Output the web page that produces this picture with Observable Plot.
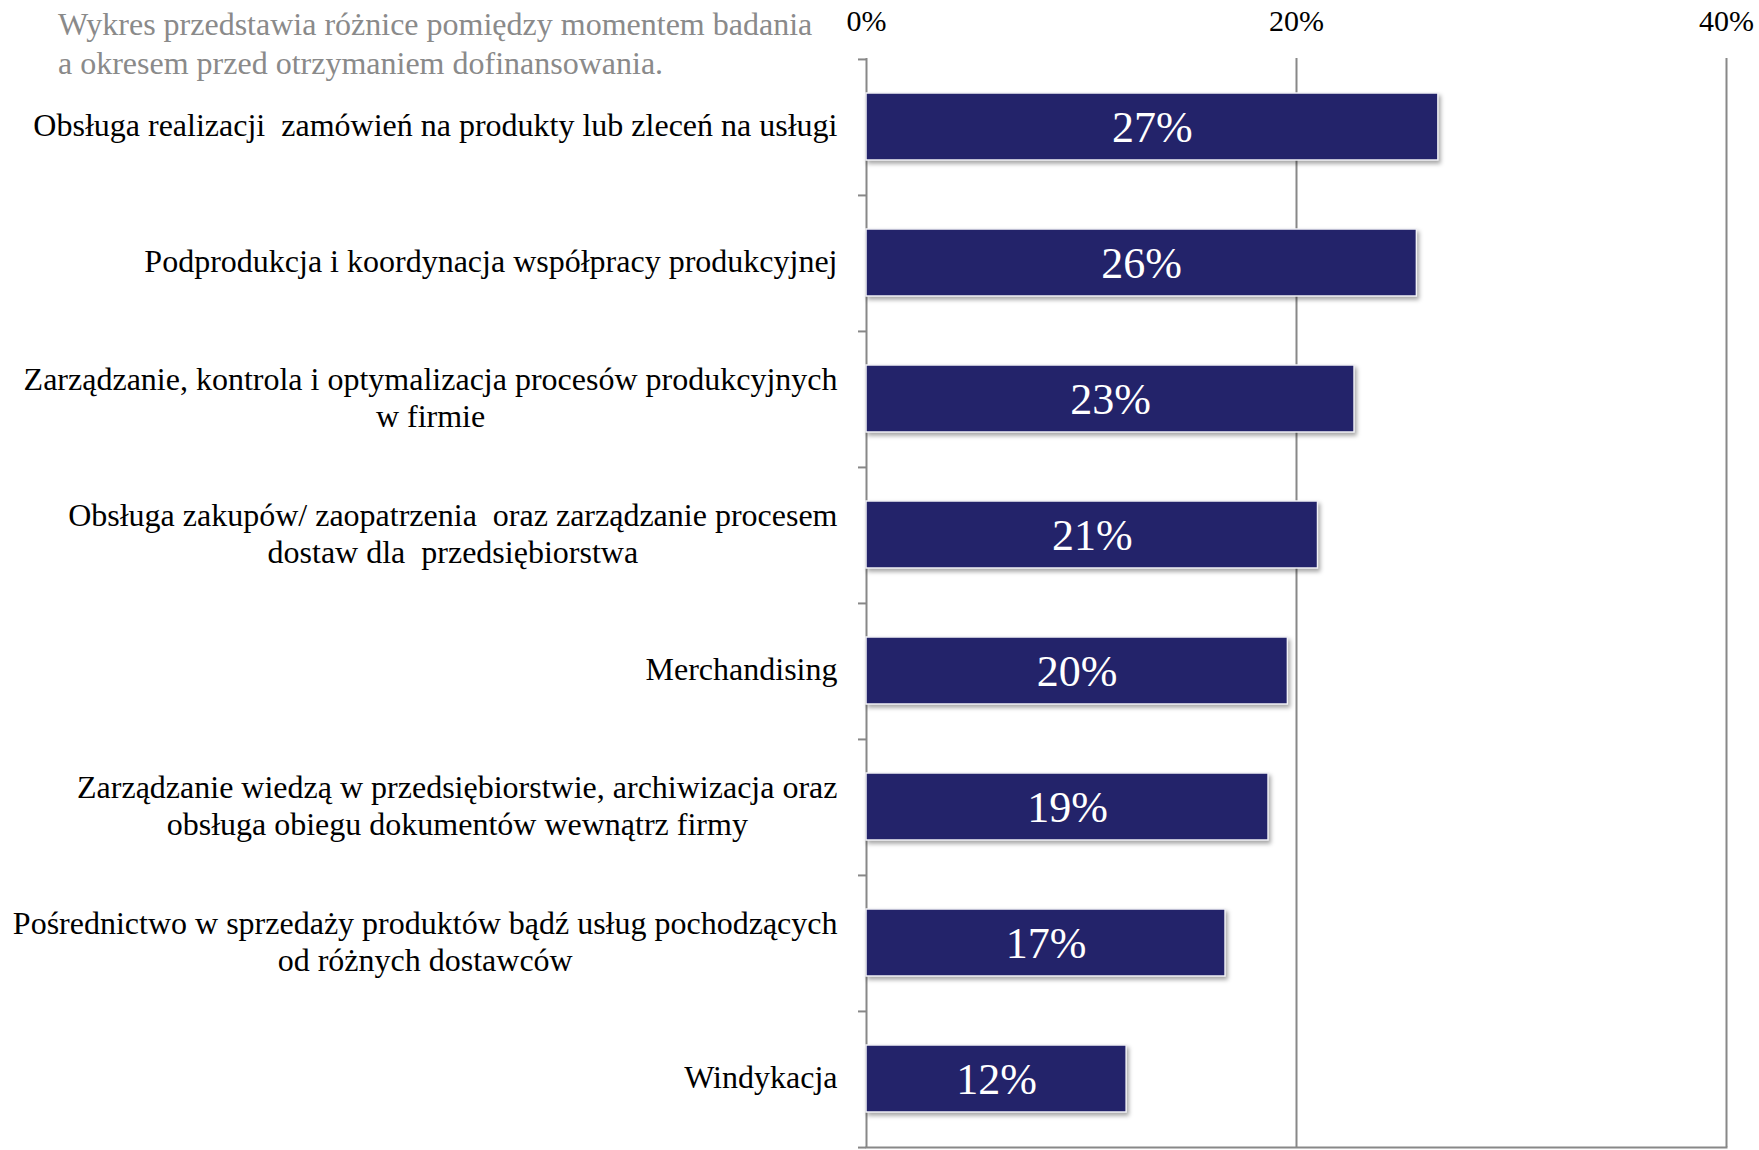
<!DOCTYPE html>
<html>
<head>
<meta charset="utf-8">
<script src="https://cdn.jsdelivr.net/npm/d3@7"></script>
<script src="https://cdn.jsdelivr.net/npm/@observablehq/plot@0.6"></script>
<style>
  html, body { margin: 0; padding: 0; background: white; }
  #wrap { position: relative; width: 1759px; height: 1150px; }
  #title { position: absolute; left: 58px; top: 5px; font-family: 'Liberation Serif', 'Times New Roman', serif; font-size: 32px; line-height: 39px; color: #8a8a8a; white-space: nowrap; }
  g[aria-label="bar"] rect { filter: drop-shadow(2px 3px 2px rgba(0,0,0,0.35)); }
</style>
</head>
<body>
<div id="wrap">
  <div id="title">Wykres przedstawia różnice pomiędzy momentem badania<br>a okresem przed otrzymaniem dofinansowania.</div>
</div>
<script>
const categories = [
  "Obsługa realizacji  zamówień na produkty lub zleceń na usługi",
  "Podprodukcja i koordynacja współpracy produkcyjnej",
  "Zarządzanie, kontrola i optymalizacja procesów produkcyjnych\nw firmie",
  "Obsługa zakupów/ zaopatrzenia  oraz zarządzanie procesem\ndostaw dla  przedsiębiorstwa",
  "Merchandising",
  "Zarządzanie wiedzą w przedsiębiorstwie, archiwizacja oraz\nobsługa obiegu dokumentów wewnątrz firmy",
  "Pośrednictwo w sprzedaży produktów bądź usług pochodzących\nod różnych dostawców",
  "Windykacja"
];
const values = [26.6, 25.6, 22.7, 21.0, 19.6, 18.7, 16.7, 12.1];
const xTicks = [0, 20, 40];

const data = categories.map((c, i) => ({category: c, value: values[i]}));
const W = 1759, H = 1150, mT = 58, mB = 3;
const step = (H - mT - mB) / categories.length;
const fmt = d3.format(".0f");

const chart = Plot.plot({
  width: W,
  height: H,
  marginLeft: 866,
  marginRight: 33,
  marginTop: mT,
  marginBottom: mB,
  style: {fontFamily: "'Liberation Serif', 'Times New Roman', serif", fontSize: "32px", background: "white", color: "black", overflow: "visible"},
  x: {domain: [0, 40], axis: null, label: null},
  y: {domain: categories, padding: 0, axis: null, label: null},
  marks: [
    Plot.ruleX(xTicks, {stroke: "#888", strokeWidth: 2}),
    Plot.frame({anchor: "bottom", stroke: "#888", strokeWidth: 2}),
    Plot.axisX({anchor: "top", ticks: xTicks, tickSize: 0, tickPadding: 28, tickFormat: d => d + "%", fontSize: 30, label: null}),
    Plot.axisY({anchor: "left", tickSize: 0, tickPadding: 29, lineHeight: 1.15, fontSize: 32, dy: -3, label: null}),
    Plot.axisY({anchor: "left", tickSize: 8, tickFormat: () => "", dy: -step / 2, stroke: "#888", strokeWidth: 2, label: null}),
    Plot.axisY({anchor: "left", ticks: [categories[categories.length - 1]], tickSize: 8, tickFormat: () => "", dy: step / 2, stroke: "#888", strokeWidth: 2, label: null}),
    Plot.barX(data, {x: "value", y: "category", fill: "#23236a", stroke: "#f2f2f6", strokeWidth: 1.5, insetTop: 34, insetBottom: 35}),
    Plot.text(data, {x: d => d.value / 2, y: "category", text: d => fmt(d.value) + "%", fill: "white", fontSize: 44})
  ]
});

document.getElementById("wrap").prepend(chart);
chart.style.position = "absolute";
chart.style.left = "0";
chart.style.top = "0";
document.getElementById("title").style.zIndex = 2;

// center multi-line labels within their right-aligned block
chart.querySelectorAll('g[aria-label="y-axis tick label"] text').forEach(t => {
  const spans = t.querySelectorAll("tspan");
  if (spans.length > 1) {
    let maxW = 0;
    spans.forEach(s => { maxW = Math.max(maxW, s.getComputedTextLength()); });
    t.setAttribute("text-anchor", "middle");
    spans.forEach(s => {
      const x0 = +(s.getAttribute("x") || 0);
      s.setAttribute("x", x0 - maxW / 2);
    });
  }
});
</script>
</body>
</html>
